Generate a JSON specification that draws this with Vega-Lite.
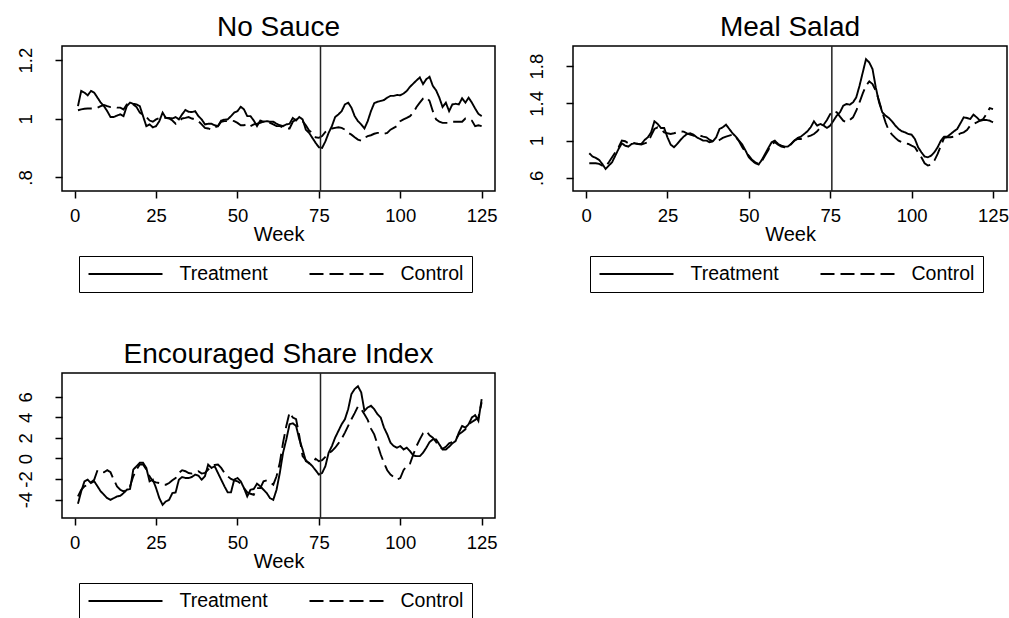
{
"$schema": "https://vega.github.io/schema/vega-lite/v6.json",
"background": "white",
"padding": {"left": 15, "top": 13, "right": 2, "bottom": 2},
"config": {
 "font": "Liberation Sans",
 "view": {"stroke": "black", "strokeWidth": 1.5},
 "axis": {"domain": false, "grid": false, "tickColor": "black", "tickSize": 7, "tickWidth": 1.5, "labelColor": "black", "labelFontSize": 18.5, "titleColor": "black", "titleFontSize": 20, "titleFontWeight": "normal", "labelOverlap": false, "labelFlush": false},
 "axisX": {"labelPadding": 8, "titlePadding": 0},
 "axisY": {"labelAngle": -90, "labelAlign": "center", "labelBaseline": "alphabetic", "labelPadding": 24},
 "title": {"fontSize": 28, "fontWeight": "normal", "color": "black", "offset": 3, "baseline": "alphabetic", "anchor": "middle"},
 "legend": {"orient": "none", "legendX": 17, "legendY": 210, "direction": "horizontal", "symbolType": "stroke", "symbolSize": 5476, "symbolStrokeWidth": 1.8, "symbolStrokeColor": "black", "clipHeight": 19, "labelFontSize": 19.5, "labelColor": "black", "labelOffset": 16, "columnPadding": 40, "padding": 8.5, "strokeColor": "black", "fillColor": "white"}
},
"datasets": {
 "ns": [
{"w":1,"Treatment":1.043,"Control":1.029},{"w":2,"Treatment":1.095,"Control":1.032},{"w":3,"Treatment":1.089,"Control":1.034},{"w":4,"Treatment":1.08,"Control":1.035},{"w":5,"Treatment":1.095,"Control":1.035},{"w":6,"Treatment":1.089,"Control":1.035},{"w":7,"Treatment":1.072,"Control":1.038},{"w":8,"Treatment":1.055,"Control":1.043},{"w":9,"Treatment":1.043,"Control":1.047},{"w":10,"Treatment":1.026,"Control":1.043},
{"w":11,"Treatment":1.006,"Control":1.04},{"w":12,"Treatment":1.006,"Control":1.04},{"w":13,"Treatment":1.011,"Control":1.038},{"w":14,"Treatment":1.015,"Control":1.038},{"w":15,"Treatment":1.009,"Control":1.032},{"w":16,"Treatment":1.043,"Control":1.049},{"w":17,"Treatment":1.055,"Control":1.055},{"w":18,"Treatment":1.051,"Control":1.049},{"w":19,"Treatment":1.049,"Control":1.04},{"w":20,"Treatment":1.043,"Control":1.021},
{"w":21,"Treatment":1.009,"Control":1.013},{"w":22,"Treatment":0.975,"Control":1.006},{"w":23,"Treatment":0.981,"Control":0.994},{"w":24,"Treatment":0.971,"Control":0.99},{"w":25,"Treatment":0.975,"Control":0.998},{"w":26,"Treatment":0.992,"Control":1.003},{"w":27,"Treatment":1.021,"Control":1.006},{"w":28,"Treatment":1.003,"Control":1.003},{"w":29,"Treatment":1.003,"Control":1.001},{"w":30,"Treatment":1.001,"Control":0.994},
{"w":31,"Treatment":1.006,"Control":0.983},{"w":32,"Treatment":0.998,"Control":0.992},{"w":33,"Treatment":1.015,"Control":1.001},{"w":34,"Treatment":1.03,"Control":1.003},{"w":35,"Treatment":1.024,"Control":1.006},{"w":36,"Treatment":1.023,"Control":1.001},{"w":37,"Treatment":1.026,"Control":0.998},{"w":38,"Treatment":1.009,"Control":0.992},{"w":39,"Treatment":0.998,"Control":0.981},{"w":40,"Treatment":0.981,"Control":0.969},
{"w":41,"Treatment":0.983,"Control":0.967},{"w":42,"Treatment":0.983,"Control":0.963},{"w":43,"Treatment":0.978,"Control":0.971},{"w":44,"Treatment":0.975,"Control":0.975},{"w":45,"Treatment":0.994,"Control":0.99},{"w":46,"Treatment":0.997,"Control":0.992},{"w":47,"Treatment":0.998,"Control":0.992},{"w":48,"Treatment":1.009,"Control":0.994},{"w":49,"Treatment":1.021,"Control":0.992},{"w":50,"Treatment":1.026,"Control":0.986},
{"w":51,"Treatment":1.041,"Control":0.978},{"w":52,"Treatment":1.032,"Control":0.978},{"w":53,"Treatment":1.009,"Control":0.983},{"w":54,"Treatment":1.009,"Control":0.975},{"w":55,"Treatment":0.994,"Control":0.981},{"w":56,"Treatment":0.975,"Control":0.983},{"w":57,"Treatment":0.994,"Control":0.986},{"w":58,"Treatment":0.99,"Control":0.99},{"w":59,"Treatment":0.992,"Control":0.992},{"w":60,"Treatment":0.99,"Control":0.986},
{"w":61,"Treatment":0.99,"Control":0.981},{"w":62,"Treatment":0.983,"Control":0.975},{"w":63,"Treatment":0.978,"Control":0.975},{"w":64,"Treatment":0.975,"Control":0.971},{"w":65,"Treatment":0.981,"Control":0.967},{"w":66,"Treatment":0.983,"Control":0.967},{"w":67,"Treatment":1.003,"Control":0.99},{"w":68,"Treatment":0.994,"Control":0.998},{"w":69,"Treatment":1.006,"Control":0.998},{"w":70,"Treatment":0.998,"Control":0.992},
{"w":71,"Treatment":0.963,"Control":0.978},{"w":72,"Treatment":0.952,"Control":0.96},{"w":73,"Treatment":0.935,"Control":0.952},{"w":74,"Treatment":0.918,"Control":0.937},{"w":75,"Treatment":0.903,"Control":0.935},{"w":76,"Treatment":0.901,"Control":0.941},{"w":77,"Treatment":0.923,"Control":0.955},{"w":78,"Treatment":0.952,"Control":0.963},{"w":79,"Treatment":0.975,"Control":0.967},{"w":80,"Treatment":1.006,"Control":0.969},
{"w":81,"Treatment":1.015,"Control":0.971},{"w":82,"Treatment":1.026,"Control":0.969},{"w":83,"Treatment":1.049,"Control":0.963},{"w":84,"Treatment":1.055,"Control":0.952},{"w":85,"Treatment":1.038,"Control":0.946},{"w":86,"Treatment":1.009,"Control":0.937},{"w":87,"Treatment":0.992,"Control":0.929},{"w":88,"Treatment":0.981,"Control":0.925},{"w":89,"Treatment":0.967,"Control":0.935},{"w":90,"Treatment":0.992,"Control":0.941},
{"w":91,"Treatment":1.026,"Control":0.944},{"w":92,"Treatment":1.053,"Control":0.949},{"w":93,"Treatment":1.058,"Control":0.952},{"w":94,"Treatment":1.061,"Control":0.952},{"w":95,"Treatment":1.064,"Control":0.949},{"w":96,"Treatment":1.072,"Control":0.952},{"w":97,"Treatment":1.078,"Control":0.963},{"w":98,"Treatment":1.078,"Control":0.969},{"w":99,"Treatment":1.081,"Control":0.975},{"w":100,"Treatment":1.08,"Control":0.992},
{"w":101,"Treatment":1.086,"Control":0.998},{"w":102,"Treatment":1.095,"Control":1.003},{"w":103,"Treatment":1.109,"Control":1.009},{"w":104,"Treatment":1.12,"Control":1.021},{"w":105,"Treatment":1.131,"Control":1.04},{"w":106,"Treatment":1.141,"Control":1.055},{"w":107,"Treatment":1.118,"Control":1.069},{"w":108,"Treatment":1.135,"Control":1.074},{"w":109,"Treatment":1.143,"Control":1.061},{"w":110,"Treatment":1.112,"Control":1.026},
{"w":111,"Treatment":1.097,"Control":0.998},{"w":112,"Treatment":1.072,"Control":0.99},{"w":113,"Treatment":1.04,"Control":0.986},{"w":114,"Treatment":1.055,"Control":0.986},{"w":115,"Treatment":1.026,"Control":0.986},{"w":116,"Treatment":1.049,"Control":0.99},{"w":117,"Treatment":1.051,"Control":0.99},{"w":118,"Treatment":1.049,"Control":0.99},{"w":119,"Treatment":1.07,"Control":0.99},{"w":120,"Treatment":1.055,"Control":1.001},
{"w":121,"Treatment":1.072,"Control":1.001},{"w":122,"Treatment":1.055,"Control":0.994},{"w":123,"Treatment":1.035,"Control":0.975},{"w":124,"Treatment":1.017,"Control":0.978},{"w":125,"Treatment":1.009,"Control":0.975}
 ],
 "ms": [
{"w":1,"Treatment":0.864,"Control":0.757},{"w":2,"Treatment":0.829,"Control":0.757},{"w":3,"Treatment":0.814,"Control":0.757},{"w":4,"Treatment":0.793,"Control":0.75},{"w":5,"Treatment":0.75,"Control":0.732},{"w":6,"Treatment":0.696,"Control":0.721},{"w":7,"Treatment":0.732,"Control":0.768},{"w":8,"Treatment":0.768,"Control":0.821},{"w":9,"Treatment":0.839,"Control":0.875},{"w":10,"Treatment":0.911,"Control":0.929},
{"w":11,"Treatment":0.971,"Control":1.0},{"w":12,"Treatment":0.946,"Control":0.993},{"w":13,"Treatment":0.936,"Control":0.971},{"w":14,"Treatment":0.964,"Control":0.982},{"w":15,"Treatment":0.971,"Control":0.971},{"w":16,"Treatment":0.964,"Control":0.964},{"w":17,"Treatment":0.964,"Control":0.957},{"w":18,"Treatment":1.007,"Control":0.971},{"w":19,"Treatment":1.036,"Control":0.982},{"w":20,"Treatment":1.089,"Control":1.054},
{"w":21,"Treatment":1.207,"Control":1.125},{"w":22,"Treatment":1.179,"Control":1.143},{"w":23,"Treatment":1.136,"Control":1.125},{"w":24,"Treatment":1.136,"Control":1.089},{"w":25,"Treatment":1.036,"Control":1.079},{"w":26,"Treatment":0.957,"Control":1.071},{"w":27,"Treatment":0.929,"Control":1.079},{"w":28,"Treatment":0.964,"Control":1.089},{"w":29,"Treatment":1.007,"Control":1.1},{"w":30,"Treatment":1.043,"Control":1.096},
{"w":31,"Treatment":1.071,"Control":1.079},{"w":32,"Treatment":1.079,"Control":1.064},{"w":33,"Treatment":1.064,"Control":1.054},{"w":34,"Treatment":1.036,"Control":1.043},{"w":35,"Treatment":1.018,"Control":1.054},{"w":36,"Treatment":1.0,"Control":1.043},{"w":37,"Treatment":1.0,"Control":1.036},{"w":38,"Treatment":0.982,"Control":1.007},{"w":39,"Treatment":0.993,"Control":0.993},{"w":40,"Treatment":1.036,"Control":0.993},
{"w":41,"Treatment":1.125,"Control":1.007},{"w":42,"Treatment":1.143,"Control":1.029},{"w":43,"Treatment":1.171,"Control":1.043},{"w":44,"Treatment":1.125,"Control":1.054},{"w":45,"Treatment":1.079,"Control":1.064},{"w":46,"Treatment":1.043,"Control":1.036},{"w":47,"Treatment":1.0,"Control":0.993},{"w":48,"Treatment":0.957,"Control":0.929},{"w":49,"Treatment":0.893,"Control":0.875},{"w":50,"Treatment":0.821,"Control":0.839},
{"w":51,"Treatment":0.786,"Control":0.793},{"w":52,"Treatment":0.757,"Control":0.768},{"w":53,"Treatment":0.743,"Control":0.75},{"w":54,"Treatment":0.793,"Control":0.779},{"w":55,"Treatment":0.857,"Control":0.839},{"w":56,"Treatment":0.921,"Control":0.9},{"w":57,"Treatment":0.982,"Control":0.964},{"w":58,"Treatment":1.0,"Control":0.982},{"w":59,"Treatment":0.964,"Control":0.957},{"w":60,"Treatment":0.946,"Control":0.936},
{"w":61,"Treatment":0.936,"Control":0.929},{"w":62,"Treatment":0.936,"Control":0.929},{"w":63,"Treatment":0.964,"Control":0.964},{"w":64,"Treatment":1.0,"Control":1.0},{"w":65,"Treatment":1.029,"Control":1.018},{"w":66,"Treatment":1.043,"Control":1.018},{"w":67,"Treatment":1.071,"Control":1.029},{"w":68,"Treatment":1.1,"Control":1.043},{"w":69,"Treatment":1.143,"Control":1.054},{"w":70,"Treatment":1.207,"Control":1.071},
{"w":71,"Treatment":1.161,"Control":1.1},{"w":72,"Treatment":1.179,"Control":1.143},{"w":73,"Treatment":1.161,"Control":1.171},{"w":74,"Treatment":1.136,"Control":1.221},{"w":75,"Treatment":1.161,"Control":1.286},{"w":76,"Treatment":1.214,"Control":1.321},{"w":77,"Treatment":1.268,"Control":1.304},{"w":78,"Treatment":1.304,"Control":1.257},{"w":79,"Treatment":1.375,"Control":1.214},{"w":80,"Treatment":1.393,"Control":1.196},
{"w":81,"Treatment":1.386,"Control":1.221},{"w":82,"Treatment":1.411,"Control":1.25},{"w":83,"Treatment":1.464,"Control":1.321},{"w":84,"Treatment":1.589,"Control":1.411},{"w":85,"Treatment":1.732,"Control":1.507},{"w":86,"Treatment":1.875,"Control":1.589},{"w":87,"Treatment":1.839,"Control":1.636},{"w":88,"Treatment":1.768,"Control":1.607},{"w":89,"Treatment":1.571,"Control":1.536},{"w":90,"Treatment":1.411,"Control":1.429},
{"w":91,"Treatment":1.304,"Control":1.304},{"w":92,"Treatment":1.268,"Control":1.196},{"w":93,"Treatment":1.243,"Control":1.107},{"w":94,"Treatment":1.207,"Control":1.064},{"w":95,"Treatment":1.161,"Control":1.029},{"w":96,"Treatment":1.125,"Control":1.0},{"w":97,"Treatment":1.1,"Control":0.982},{"w":98,"Treatment":1.089,"Control":0.971},{"w":99,"Treatment":1.071,"Control":0.964},{"w":100,"Treatment":1.064,"Control":0.946},
{"w":101,"Treatment":1.018,"Control":0.929},{"w":102,"Treatment":0.929,"Control":0.875},{"w":103,"Treatment":0.875,"Control":0.821},{"w":104,"Treatment":0.829,"Control":0.757},{"w":105,"Treatment":0.821,"Control":0.732},{"w":106,"Treatment":0.839,"Control":0.743},{"w":107,"Treatment":0.875,"Control":0.786},{"w":108,"Treatment":0.929,"Control":0.857},{"w":109,"Treatment":1.0,"Control":0.946},{"w":110,"Treatment":1.043,"Control":1.029},
{"w":111,"Treatment":1.043,"Control":1.036},{"w":112,"Treatment":1.071,"Control":1.036},{"w":113,"Treatment":1.1,"Control":1.043},{"w":114,"Treatment":1.125,"Control":1.054},{"w":115,"Treatment":1.186,"Control":1.079},{"w":116,"Treatment":1.25,"Control":1.089},{"w":117,"Treatment":1.243,"Control":1.114},{"w":118,"Treatment":1.232,"Control":1.161},{"w":119,"Treatment":1.279,"Control":1.179},{"w":120,"Treatment":1.25,"Control":1.196},
{"w":121,"Treatment":1.214,"Control":1.214},{"w":122,"Treatment":1.221,"Control":1.232},{"w":123,"Treatment":1.221,"Control":1.286},{"w":124,"Treatment":1.214,"Control":1.35},{"w":125,"Treatment":1.196,"Control":1.339}
 ],
 "es": [
{"w":1,"Treatment":-4.41,"Control":-3.69},{"w":2,"Treatment":-3.2,"Control":-3.04},{"w":3,"Treatment":-2.22,"Control":-2.71},{"w":4,"Treatment":-2.06,"Control":-2.55},{"w":5,"Treatment":-2.39,"Control":-2.32},{"w":6,"Treatment":-2.22,"Control":-2.06},{"w":7,"Treatment":-2.71,"Control":-1.14},{"w":8,"Treatment":-3.2,"Control":-1.24},{"w":9,"Treatment":-3.53,"Control":-1.34},{"w":10,"Treatment":-3.86,"Control":-1.14},
{"w":11,"Treatment":-4.02,"Control":-1.34},{"w":12,"Treatment":-3.86,"Control":-2.06},{"w":13,"Treatment":-3.69,"Control":-2.71},{"w":14,"Treatment":-3.63,"Control":-3.04},{"w":15,"Treatment":-3.37,"Control":-3.2},{"w":16,"Treatment":-3.04,"Control":-3.04},{"w":17,"Treatment":-2.97,"Control":-2.71},{"w":18,"Treatment":-1.08,"Control":-1.73},{"w":19,"Treatment":-0.75,"Control":-1.08},{"w":20,"Treatment":-0.42,"Control":-0.59},
{"w":21,"Treatment":-0.42,"Control":-0.59},{"w":22,"Treatment":-0.92,"Control":-1.08},{"w":23,"Treatment":-2.22,"Control":-1.73},{"w":24,"Treatment":-2.06,"Control":-2.22},{"w":25,"Treatment":-2.88,"Control":-2.32},{"w":26,"Treatment":-3.86,"Control":-2.39},{"w":27,"Treatment":-4.51,"Control":-2.55},{"w":28,"Treatment":-4.18,"Control":-2.55},{"w":29,"Treatment":-4.02,"Control":-2.39},{"w":30,"Treatment":-3.37,"Control":-2.12},
{"w":31,"Treatment":-3.3,"Control":-1.9},{"w":32,"Treatment":-2.06,"Control":-1.41},{"w":33,"Treatment":-1.8,"Control":-1.14},{"w":34,"Treatment":-1.9,"Control":-1.24},{"w":35,"Treatment":-1.9,"Control":-1.41},{"w":36,"Treatment":-1.8,"Control":-1.47},{"w":37,"Treatment":-1.57,"Control":-1.34},{"w":38,"Treatment":-1.67,"Control":-1.24},{"w":39,"Treatment":-2.06,"Control":-1.47},{"w":40,"Treatment":-1.73,"Control":-1.41},
{"w":41,"Treatment":-0.59,"Control":-1.08},{"w":42,"Treatment":-0.92,"Control":-0.75},{"w":43,"Treatment":-0.75,"Control":-0.62},{"w":44,"Treatment":-1.41,"Control":-0.59},{"w":45,"Treatment":-2.06,"Control":-0.92},{"w":46,"Treatment":-2.71,"Control":-1.41},{"w":47,"Treatment":-3.3,"Control":-1.73},{"w":48,"Treatment":-3.3,"Control":-1.99},{"w":49,"Treatment":-2.06,"Control":-2.12},{"w":50,"Treatment":-1.9,"Control":-2.22},
{"w":51,"Treatment":-2.22,"Control":-2.45},{"w":52,"Treatment":-2.88,"Control":-2.88},{"w":53,"Treatment":-3.69,"Control":-3.3},{"w":54,"Treatment":-3.04,"Control":-3.43},{"w":55,"Treatment":-2.97,"Control":-3.53},{"w":56,"Treatment":-2.45,"Control":-2.88},{"w":57,"Treatment":-2.71,"Control":-2.88},{"w":58,"Treatment":-3.04,"Control":-2.22},{"w":59,"Treatment":-3.37,"Control":-2.12},{"w":60,"Treatment":-3.86,"Control":-2.32},
{"w":61,"Treatment":-4.02,"Control":-2.55},{"w":62,"Treatment":-3.04,"Control":-1.73},{"w":63,"Treatment":-1.41,"Control":-0.42},{"w":64,"Treatment":0.56,"Control":1.54},{"w":65,"Treatment":1.86,"Control":3.17},{"w":66,"Treatment":3.33,"Control":4.48},{"w":67,"Treatment":3.43,"Control":3.99},{"w":68,"Treatment":3.17,"Control":3.82},{"w":69,"Treatment":1.86,"Control":2.19},{"w":70,"Treatment":0.88,"Control":0.23},
{"w":71,"Treatment":-0.26,"Control":-0.16},{"w":72,"Treatment":-0.42,"Control":-0.49},{"w":73,"Treatment":-0.75,"Control":-0.42},{"w":74,"Treatment":-1.14,"Control":-0.03},{"w":75,"Treatment":-1.57,"Control":-0.26},{"w":76,"Treatment":-1.41,"Control":-0.16},{"w":77,"Treatment":-0.75,"Control":0.16},{"w":78,"Treatment":0.56,"Control":0.49},{"w":79,"Treatment":1.21,"Control":0.72},{"w":80,"Treatment":2.03,"Control":1.05},
{"w":81,"Treatment":2.68,"Control":1.47},{"w":82,"Treatment":3.33,"Control":1.93},{"w":83,"Treatment":3.82,"Control":2.52},{"w":84,"Treatment":4.8,"Control":3.17},{"w":85,"Treatment":6.27,"Control":3.82},{"w":86,"Treatment":6.76,"Control":4.41},{"w":87,"Treatment":7.03,"Control":5.07},{"w":88,"Treatment":6.44,"Control":4.8},{"w":89,"Treatment":4.64,"Control":4.31},{"w":90,"Treatment":4.97,"Control":3.76},
{"w":91,"Treatment":5.13,"Control":2.91},{"w":92,"Treatment":4.8,"Control":2.35},{"w":93,"Treatment":4.31,"Control":1.37},{"w":94,"Treatment":3.99,"Control":0.39},{"w":95,"Treatment":3.01,"Control":-0.42},{"w":96,"Treatment":2.35,"Control":-1.14},{"w":97,"Treatment":1.54,"Control":-1.57},{"w":98,"Treatment":1.21,"Control":-1.8},{"w":99,"Treatment":1.05,"Control":-2.06},{"w":100,"Treatment":1.21,"Control":-1.9},
{"w":101,"Treatment":0.88,"Control":-1.14},{"w":102,"Treatment":1.05,"Control":-0.69},{"w":103,"Treatment":0.72,"Control":-0.49},{"w":104,"Treatment":0.29,"Control":0.39},{"w":105,"Treatment":0.23,"Control":1.21},{"w":106,"Treatment":0.23,"Control":1.86},{"w":107,"Treatment":0.56,"Control":2.45},{"w":108,"Treatment":1.05,"Control":2.68},{"w":109,"Treatment":1.6,"Control":2.25},{"w":110,"Treatment":1.86,"Control":2.03},
{"w":111,"Treatment":1.86,"Control":1.6},{"w":112,"Treatment":1.37,"Control":1.14},{"w":113,"Treatment":0.88,"Control":0.95},{"w":114,"Treatment":0.88,"Control":1.14},{"w":115,"Treatment":1.14,"Control":1.47},{"w":116,"Treatment":1.47,"Control":1.6},{"w":117,"Treatment":1.7,"Control":1.8},{"w":118,"Treatment":2.52,"Control":2.35},{"w":119,"Treatment":3.17,"Control":2.58},{"w":120,"Treatment":3.01,"Control":2.84},
{"w":121,"Treatment":3.33,"Control":3.33},{"w":122,"Treatment":3.99,"Control":3.56},{"w":123,"Treatment":4.22,"Control":3.76},{"w":124,"Treatment":3.66,"Control":3.99},{"w":125,"Treatment":5.78,"Control":5.46}
 ],
 "cut": [{"w": 75.5}]
},
"columns": 2,
"bounds": "flush",
"spacing": {"column": 78, "row": 182},
"resolve": {"scale": {"x": "independent", "y": "independent", "strokeDash": "independent"}, "legend": {"strokeDash": "independent"}, "axis": {"x": "independent", "y": "independent"}},
"concat": [
 {
  "width": 433, "height": 145,
  "title": "No Sauce",
  "layer": [
   {
    "data": {"name": "ns"},
    "transform": [{"fold": ["Treatment", "Control"], "as": ["series", "value"]}],
    "mark": {"type": "line", "color": "black", "strokeWidth": 1.9},
    "encoding": {
     "x": {"field": "w", "type": "quantitative", "scale": {"domain": [-3.9, 129.1], "nice": false, "zero": false}, "axis": {"values": [0, 25, 50, 75, 100, 125], "title": "Week"}},
     "y": {"field": "value", "type": "quantitative", "scale": {"domain": [0.754, 1.248], "nice": false, "zero": false}, "axis": {"values": [0.8, 1, 1.2], "title": null, "labelExpr": "replace(format(datum.value, '~g'), '0.', '.')"}},
     "strokeDash": {"field": "series", "type": "nominal", "scale": {"domain": ["Treatment", "Control"], "range": [[1, 0], [14, 6]]}, "legend": {"title": null}}
    }
   },
   {
    "data": {"name": "cut"},
    "mark": {"type": "rule", "color": "#222222", "strokeWidth": 1.5},
    "encoding": {"x": {"field": "w", "type": "quantitative"}}
   }
  ]
 },
 {
  "width": 434, "height": 145,
  "title": "Meal Salad",
  "layer": [
   {
    "data": {"name": "ms"},
    "transform": [{"fold": ["Treatment", "Control"], "as": ["series", "value"]}],
    "mark": {"type": "line", "color": "black", "strokeWidth": 1.9},
    "encoding": {
     "x": {"field": "w", "type": "quantitative", "scale": {"domain": [-4.0, 129.3], "nice": false, "zero": false}, "axis": {"values": [0, 25, 50, 75, 100, 125], "title": "Week"}},
     "y": {"field": "value", "type": "quantitative", "scale": {"domain": [0.459, 2.016], "nice": false, "zero": false}, "axis": {"values": [0.6, 1, 1.4, 1.8], "title": null, "labelExpr": "replace(format(datum.value, '~g'), '0.', '.')"}},
     "strokeDash": {"field": "series", "type": "nominal", "scale": {"domain": ["Treatment", "Control"], "range": [[1, 0], [14, 6]]}, "legend": {"title": null}}
    }
   },
   {
    "data": {"name": "cut"},
    "mark": {"type": "rule", "color": "#222222", "strokeWidth": 1.5},
    "encoding": {"x": {"field": "w", "type": "quantitative"}}
   }
  ]
 },
 {
  "width": 433, "height": 145,
  "title": "Encouraged Share Index",
  "layer": [
   {
    "data": {"name": "es"},
    "transform": [{"fold": ["Treatment", "Control"], "as": ["series", "value"]}],
    "mark": {"type": "line", "color": "black", "strokeWidth": 1.9},
    "encoding": {
     "x": {"field": "w", "type": "quantitative", "scale": {"domain": [-3.9, 129.1], "nice": false, "zero": false}, "axis": {"values": [0, 25, 50, 75, 100, 125], "title": "Week"}},
     "y": {"field": "value", "type": "quantitative", "scale": {"domain": [-5.79, 8.32], "nice": false, "zero": false}, "axis": {"values": [-4, -2, 0, 2, 4, 6], "title": null, "labelExpr": "datum.value < 0 ? '-' + abs(datum.value) : '' + datum.value"}},
     "strokeDash": {"field": "series", "type": "nominal", "scale": {"domain": ["Treatment", "Control"], "range": [[1, 0], [14, 6]]}, "legend": {"title": null}}
    }
   },
   {
    "data": {"name": "cut"},
    "mark": {"type": "rule", "color": "#222222", "strokeWidth": 1.5},
    "encoding": {"x": {"field": "w", "type": "quantitative"}}
   }
  ]
 }
]
}
